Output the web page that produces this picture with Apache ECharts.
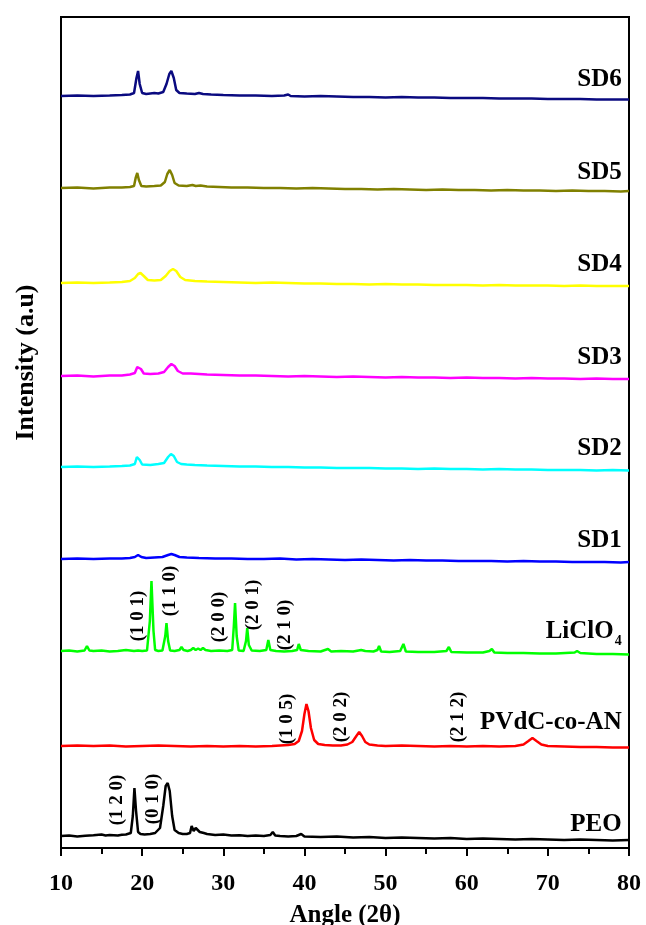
<!DOCTYPE html>
<html>
<head>
<meta charset="utf-8">
<script src="https://cdn.jsdelivr.net/npm/echarts@6/dist/echarts.min.js"></script>
<style>
  html, body { margin: 0; padding: 0; background: #fff; }
  #main { width: 646px; height: 925px; }
</style>
</head>
<body>
<div id="main"></div>
<script>
// XRD patterns, [2theta, intensity above own baseline]
const peo = [[10,0],[11,0.5],[12,-0.5],[13,0.3],[14,0.8],[15,1.5],[15.5,0.5],[16,1],[17,0.5],[17.5,1.2],[18,1.5],[18.6,3],[18.85,20],[19.05,48],[19.25,25],[19.5,4],[19.8,2],[20.3,1.5],[21,2],[21.6,3],[22.2,8],[22.6,30],[22.9,50],[23.15,53],[23.4,45],[23.7,20],[24,6],[24.5,3],[25,2],[25.5,2],[25.9,3],[26.1,10],[26.35,5],[26.6,8],[26.85,6],[27.1,4],[27.6,3],[28,2],[29,1],[30,1.5],[31,0.5],[32,0.8],[33,0],[34,0.5],[35,0],[35.8,1],[36.1,4],[36.4,0.5],[37,0],[38,-0.5],[39,0],[39.6,2],[40,-0.5],[42,-1],[44,-0.5],[46,-1.5],[48,-1],[50,-2],[52,-1.5],[54,-2],[56,-2.5],[58,-2],[60,-3],[62,-2.5],[64,-3],[66,-3.5],[68,-3],[70,-3.5],[72,-4],[74,-3.5],[76,-4],[78,-4.5],[80,-4]];
const pvdc = [[10,0],[12,0.5],[14,0],[16,0.5],[18,-0.5],[20,0],[22,0.5],[24,0],[26,-0.5],[28,0],[30,-0.5],[32,0],[34,-0.5],[36,0],[37,0.5],[38,1],[38.8,2],[39.3,5],[39.7,15],[40,32],[40.25,42],[40.5,35],[40.8,18],[41.2,6],[41.7,2],[42.5,1],[43.5,0.5],[44.5,0.5],[45.3,1.5],[45.9,4],[46.4,10],[46.75,14],[47.1,10],[47.5,4],[48,1.5],[49,0.5],[50,0],[52,0.5],[54,0],[56,-0.5],[58,0],[60,-0.5],[62,0],[64,-0.5],[66,0],[67,1.5],[67.6,5],[68.1,8],[68.6,5],[69.2,1.5],[70,0],[72,-0.5],[74,-1],[76,-1],[78,-1.5],[80,-1.5]];
const liclo4 = [[10,0],[11,0.5],[12,-0.5],[12.9,0.5],[13.2,5],[13.5,0.5],[14,0],[15,0.5],[16,-0.5],[17,0],[18,1],[18.5,0.5],[19,0],[19.5,0.5],[20,0],[20.6,0.5],[20.95,30],[21.15,70],[21.4,20],[21.6,1],[22,0],[22.5,0.5],[22.85,15],[23.0,28],[23.2,10],[23.45,0.5],[24,0],[24.6,1],[24.85,4],[25.1,1],[25.6,0],[26,1],[26.3,3],[26.6,1],[26.9,2.5],[27.2,1],[27.5,3],[27.8,1],[28.5,0],[29.5,0.5],[30.5,0],[31.1,1],[31.3,25],[31.45,48],[31.65,15],[31.9,0.5],[32.5,0],[32.8,10],[32.95,23],[33.15,6],[33.5,0.5],[34.5,0],[35.3,1],[35.55,11],[35.8,1],[36.5,0],[37.5,-0.5],[38.5,0],[39.1,1],[39.3,7],[39.55,1],[40.5,0],[42,-0.5],[42.9,2],[43.3,-0.5],[44.5,0],[46,-0.5],[47,1],[47.2,3],[47.5,0],[48.5,-0.5],[49.0,1],[49.2,5],[49.45,-0.5],[50.5,-1],[51.8,0],[52.2,7],[52.5,-0.5],[54,-1],[56,-1],[57.5,0],[57.8,4],[58.1,-1],[60,-1.5],[62,-1.5],[62.8,0],[63.1,2],[63.4,-1.5],[65,-2],[67,-2],[69,-2.5],[71,-2.5],[73.3,-1.5],[73.6,0],[74,-2],[76,-3],[78,-3],[80,-3.5]];
const sd1 = [[10,0],[12,0.5],[14,0],[16,0.5],[17.5,0.5],[18.5,1],[19.1,2],[19.5,4],[19.9,2],[20.5,1],[21.5,1.5],[22.5,2],[23.2,4],[23.6,5],[24.0,4],[24.6,2],[25.5,1.5],[27,1],[29,0.5],[31,0.5],[33,0],[35,0],[37,0.5],[39,-0.5],[41,0],[43,-0.5],[45,-1],[47,-0.5],[49,-1],[51,-1.5],[53,-1],[55,-1.5],[57,-1.5],[59,-2],[61,-2],[63,-2],[65,-2.5],[67,-2],[69,-2.5],[71,-2.5],[73,-3],[75,-3],[77,-3],[79,-3.5],[80,-3]];
const sd2 = [[10,0],[12,0.5],[14,0],[16,0.5],[17.5,1],[18.5,1.5],[19.1,3],[19.35,10],[19.5,12],[19.7,7],[20,2.5],[21,2],[22,3],[22.7,4],[23.2,10],[23.55,13],[23.9,11],[24.3,5],[24.8,3],[25.5,2.5],[26.5,2],[28,1.5],[30,1],[32,0.5],[34,0.5],[36,0],[38,0],[40,-0.5],[42,-0.5],[44,-1],[46,-1],[48,-1],[50,-1.5],[52,-1.5],[54,-2],[56,-1.5],[58,-2],[60,-2],[62,-2.5],[64,-2],[66,-2.5],[68,-2.5],[70,-3],[72,-3],[74,-3],[76,-3.5],[78,-3],[80,-3.5]];
const sd3 = [[10,0],[12,0.5],[14,-0.5],[16,0.5],[17.5,0.5],[18.5,1.5],[19.1,3],[19.4,9],[19.6,11],[19.85,7],[20.2,2.5],[21,2],[22,2.5],[22.7,4],[23.2,9],[23.6,12],[24.0,10],[24.4,5],[25,2.5],[26,2.5],[27,2],[28,1.5],[30,1],[32,0.5],[34,0.5],[36,0],[38,-0.5],[40,0],[42,-0.5],[44,-1],[46,-0.5],[48,-1],[50,-1.5],[52,-1],[54,-1.5],[56,-1.5],[58,-2],[60,-1.5],[62,-2],[64,-2],[66,-2.5],[68,-2],[70,-2.5],[72,-2.5],[74,-3],[76,-2.5],[78,-3],[80,-3]];
const sd4 = [[10,0],[12,0.5],[14,0],[16,0.5],[17.5,1],[18.5,2],[19.1,5],[19.5,9],[19.8,10],[20.2,7],[20.7,3],[21.5,2.5],[22.3,3],[22.9,7],[23.4,12],[23.8,14],[24.2,12],[24.7,6],[25.3,3],[26.5,2],[28,1.5],[30,1],[32,0.5],[34,0],[36,0.5],[38,0],[40,-0.5],[42,-0.5],[44,-1],[46,-1],[48,-1.5],[50,-1],[52,-1.5],[54,-1.5],[56,-2],[58,-2],[60,-2],[62,-2.5],[64,-2],[66,-2.5],[68,-2.5],[70,-2.5],[72,-3],[74,-2.5],[76,-3],[78,-3],[80,-3]];
const sd5 = [[10,0],[12,0.5],[14,-0.5],[16,0.5],[17.5,0.5],[18.5,1],[19.0,2],[19.2,10],[19.4,15],[19.6,8],[19.9,2],[20.5,1.5],[21.5,2],[22.3,2.5],[22.8,6],[23.1,14],[23.4,18],[23.7,13],[24.0,5],[24.5,2.5],[25.5,2],[26.2,3],[26.6,2],[27.2,2.5],[28,1.5],[29.5,1],[31,0.5],[33,0.5],[35,0],[37,0],[39,-0.5],[41,0],[43,-0.5],[45,-1],[47,-1],[49,-1.5],[51,-1],[53,-1.5],[55,-2],[57,-1.5],[59,-2],[61,-2],[63,-2.5],[65,-2],[67,-2.5],[69,-2.5],[71,-3],[73,-2.5],[75,-3],[77,-3],[79,-3.5],[80,-3]];
const sd6 = [[10,0],[12,0.5],[14,0],[16,0.5],[17.5,1],[18.5,1.5],[19.0,3],[19.3,18],[19.5,25],[19.7,12],[20,3],[20.5,2],[21,2.5],[21.5,3],[22,2.5],[22.6,4],[23.0,12],[23.35,22],[23.6,25],[23.9,18],[24.2,6],[24.6,3],[25.5,2.5],[26.5,2],[27,3],[27.5,2],[28.5,1.5],[30,1],[32,0.5],[34,0.5],[36,0],[37.5,0.5],[38,1.5],[38.3,0],[40,-0.5],[42,0],[44,-0.5],[46,-1],[48,-1],[50,-1.5],[52,-1],[54,-1.5],[56,-1.5],[58,-2],[60,-2],[62,-2],[64,-2.5],[66,-2.5],[68,-2.5],[70,-3],[72,-3],[74,-3],[76,-3.5],[78,-3.5],[80,-3.5]];

const patterns = [peo, pvdc, liclo4, sd1, sd2, sd3, sd4, sd5, sd6];
const names = ['PEO', 'PVdC-co-AN', 'LiClO4', 'SD1', 'SD2', 'SD3', 'SD4', 'SD5', 'SD6'];
const offsets = [12, 102, 197, 289, 381, 472, 565, 660, 752];   // vertical shift of each pattern
const nameY = [23, 125, 216, 307, 399, 490, 583, 675, 768];    // where the name sits
const colors = ['#000000', '#ff0000', '#00ff00', '#0000ff', '#00ffff', '#ff00ff', '#ffff00', '#808000', '#0a0a80'];

// (hkl) reflections: pattern index, text, 2theta, height
const planeOf = [0, 0, 1, 1, 1, 2, 2, 2, 2, 2];
const planeText = ['(1 2 0)', '(0 1 0)', '(1 0 5)', '(2 0 2)', '(2 1 2)', '(1 0 1)', '(1 1 0)', '(2 0 0)', '(2 0 1)', '(2 1 0)'];
const planeX = [16.9, 21.3, 37.9, 44.5, 58.9, 19.5, 23.4, 29.5, 33.7, 37.6];
const planeY = [48, 49, 129, 131, 131, 232, 257, 231, 243, 223];

const xTicks = [10, 20, 30, 40, 50, 60, 70, 80];

const font = "'Liberation Serif', 'Times New Roman', serif";
const chart = echarts.init(document.getElementById('main'));

const series = patterns.map(function (pts, i) {
  const marks = [{
    coord: [79.1, nameY[i]],
    value: names[i],
    label: {
      align: 'right',
      formatter: i === 2 ? '{m|LiClO}{s|4}' : names[i]
    }
  }];
  planeOf.forEach(function (p, k) {
    if (p !== i) return;
    marks.push({
      coord: [planeX[k], planeY[k]],
      value: planeText[k],
      label: { rotate: 90, fontSize: 19, formatter: planeText[k] }
    });
  });
  return {
    type: 'line',
    name: names[i],
    data: pts.map(function (d) { return [d[0], d[1] + offsets[i]]; }),
    showSymbol: false,
    smooth: false,
    lineStyle: { color: colors[i], width: 2.5 },
    z: 2 + i,
    animation: false,
    markPoint: {
      symbolSize: 0,
      silent: true,
      animation: false,
      label: {
        show: true,
        position: 'inside',
        color: '#000',
        fontFamily: font,
        fontWeight: 'bold',
        fontSize: 25,
        rich: {
          m: { fontFamily: font, fontWeight: 'bold', fontSize: 25, color: '#000' },
          s: { fontFamily: font, fontWeight: 'bold', fontSize: 14, color: '#000', padding: [18, 0, 0, 1] }
        }
      },
      data: marks
    }
  };
});

chart.setOption({
  backgroundColor: '#fff',
  animation: false,
  grid: {
    left: 61, right: 17, top: 17, bottom: 77,
    outerBoundsMode: 'none',
    containLabel: false,
    show: true, borderColor: '#000', borderWidth: 2, backgroundColor: 'transparent'
  },
  xAxis: {
    type: 'value',
    min: 10,
    max: 80,
    interval: 10,
    name: 'Angle (2\u03b8)',
    nameLocation: 'middle',
    nameGap: 55,
    nameTextStyle: { fontFamily: font, fontWeight: 'bold', fontSize: 25, color: '#000' },
    axisLine: { onZero: false, lineStyle: { color: '#000', width: 2 } },
    axisTick: { show: true, inside: false, length: 8, lineStyle: { color: '#000', width: 2 } },
    minorTick: { show: true, splitNumber: 2, length: 6, lineStyle: { color: '#000', width: 2 } },
    axisLabel: {
      margin: 24, color: '#000', fontFamily: font, fontWeight: 'bold', fontSize: 24,
      customValues: xTicks
    },
    splitLine: { show: false }
  },
  yAxis: {
    type: 'value',
    min: 0,
    max: 831,
    name: 'Intensity (a.u)',
    nameLocation: 'middle',
    nameGap: 22,
    nameTextStyle: { fontFamily: font, fontWeight: 'bold', fontSize: 26, color: '#000', padding: [0, 0, 0, 140] },
    axisLine: { show: true, lineStyle: { color: '#000', width: 2 } },
    axisTick: { show: false },
    axisLabel: { show: false },
    splitLine: { show: false }
  },
  series: series
});
</script>
</body>
</html>
